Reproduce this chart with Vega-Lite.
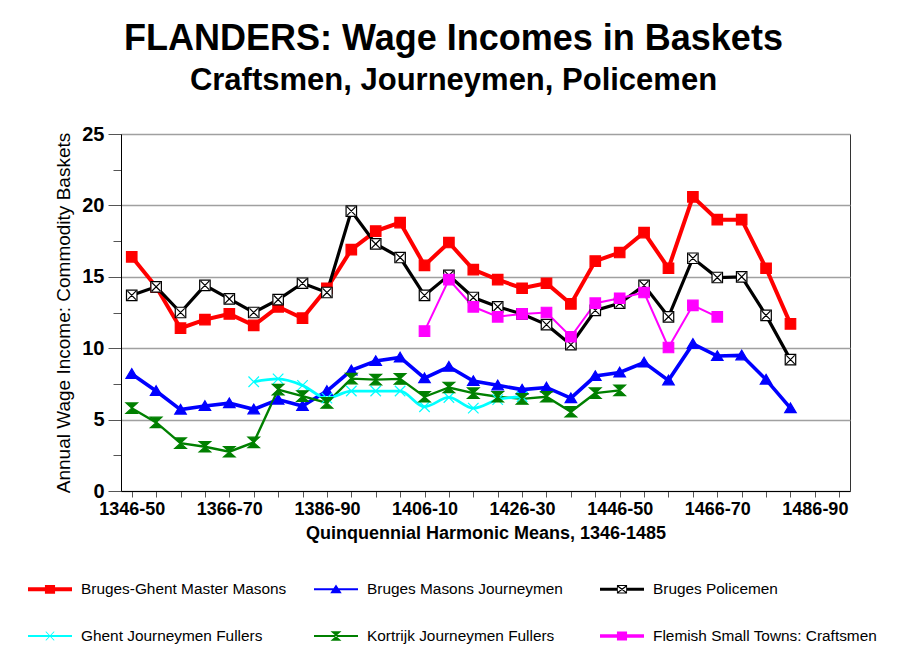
{
  "$schema": "https://vega.github.io/schema/vega-lite/v6.json",
  "autosize": "none",
  "width": 729,
  "height": 357,
  "padding": {"left": 121, "top": 134, "right": 52, "bottom": 178},
  "background": "white",
  "config": {
    "view": {"stroke": "#333", "strokeWidth": 1},
    "font": "Liberation Sans"
  },
  "title": {
    "text": "FLANDERS: Wage Incomes in Baskets",
    "subtitle": "Craftsmen, Journeymen, Policemen",
    "font": "Liberation Sans",
    "fontSize": 36,
    "fontWeight": "bold",
    "color": "black",
    "subtitleFont": "Liberation Sans",
    "subtitleFontSize": 31,
    "subtitleFontWeight": "bold",
    "subtitleColor": "black",
    "subtitlePadding": 8,
    "anchor": "middle",
    "frame": "group",
    "dx": -32,
    "offset": 27
  },
  "data": {
    "values": [
      {"period": "1346-50", "series": "Bruges-Ghent Master Masons", "value": 16.4},
      {"period": "1351-55", "series": "Bruges-Ghent Master Masons", "value": 14.3},
      {"period": "1356-60", "series": "Bruges-Ghent Master Masons", "value": 11.4},
      {"period": "1361-65", "series": "Bruges-Ghent Master Masons", "value": 12.0},
      {"period": "1366-70", "series": "Bruges-Ghent Master Masons", "value": 12.4},
      {"period": "1371-75", "series": "Bruges-Ghent Master Masons", "value": 11.6},
      {"period": "1376-80", "series": "Bruges-Ghent Master Masons", "value": 12.9},
      {"period": "1381-85", "series": "Bruges-Ghent Master Masons", "value": 12.1},
      {"period": "1386-90", "series": "Bruges-Ghent Master Masons", "value": 14.2},
      {"period": "1391-95", "series": "Bruges-Ghent Master Masons", "value": 16.9},
      {"period": "1396-1400", "series": "Bruges-Ghent Master Masons", "value": 18.2},
      {"period": "1401-05", "series": "Bruges-Ghent Master Masons", "value": 18.8},
      {"period": "1406-10", "series": "Bruges-Ghent Master Masons", "value": 15.8},
      {"period": "1411-15", "series": "Bruges-Ghent Master Masons", "value": 17.4},
      {"period": "1416-20", "series": "Bruges-Ghent Master Masons", "value": 15.5},
      {"period": "1421-25", "series": "Bruges-Ghent Master Masons", "value": 14.8},
      {"period": "1426-30", "series": "Bruges-Ghent Master Masons", "value": 14.2},
      {"period": "1431-35", "series": "Bruges-Ghent Master Masons", "value": 14.55},
      {"period": "1436-40", "series": "Bruges-Ghent Master Masons", "value": 13.1},
      {"period": "1441-45", "series": "Bruges-Ghent Master Masons", "value": 16.1},
      {"period": "1446-50", "series": "Bruges-Ghent Master Masons", "value": 16.7},
      {"period": "1451-55", "series": "Bruges-Ghent Master Masons", "value": 18.1},
      {"period": "1456-60", "series": "Bruges-Ghent Master Masons", "value": 15.6},
      {"period": "1461-65", "series": "Bruges-Ghent Master Masons", "value": 20.6},
      {"period": "1466-70", "series": "Bruges-Ghent Master Masons", "value": 19.0},
      {"period": "1471-75", "series": "Bruges-Ghent Master Masons", "value": 19.0},
      {"period": "1476-80", "series": "Bruges-Ghent Master Masons", "value": 15.6},
      {"period": "1481-85", "series": "Bruges-Ghent Master Masons", "value": 11.7},

      {"period": "1346-50", "series": "Bruges Masons Journeymen", "value": 8.2},
      {"period": "1351-55", "series": "Bruges Masons Journeymen", "value": 7.0},
      {"period": "1356-60", "series": "Bruges Masons Journeymen", "value": 5.7},
      {"period": "1361-65", "series": "Bruges Masons Journeymen", "value": 5.95},
      {"period": "1366-70", "series": "Bruges Masons Journeymen", "value": 6.15},
      {"period": "1371-75", "series": "Bruges Masons Journeymen", "value": 5.72},
      {"period": "1376-80", "series": "Bruges Masons Journeymen", "value": 6.4},
      {"period": "1381-85", "series": "Bruges Masons Journeymen", "value": 5.95},
      {"period": "1386-90", "series": "Bruges Masons Journeymen", "value": 7.0},
      {"period": "1391-95", "series": "Bruges Masons Journeymen", "value": 8.45},
      {"period": "1396-1400", "series": "Bruges Masons Journeymen", "value": 9.1},
      {"period": "1401-05", "series": "Bruges Masons Journeymen", "value": 9.35},
      {"period": "1406-10", "series": "Bruges Masons Journeymen", "value": 7.9},
      {"period": "1411-15", "series": "Bruges Masons Journeymen", "value": 8.7},
      {"period": "1416-20", "series": "Bruges Masons Journeymen", "value": 7.7},
      {"period": "1421-25", "series": "Bruges Masons Journeymen", "value": 7.4},
      {"period": "1426-30", "series": "Bruges Masons Journeymen", "value": 7.1},
      {"period": "1431-35", "series": "Bruges Masons Journeymen", "value": 7.25},
      {"period": "1436-40", "series": "Bruges Masons Journeymen", "value": 6.5},
      {"period": "1441-45", "series": "Bruges Masons Journeymen", "value": 8.05},
      {"period": "1446-50", "series": "Bruges Masons Journeymen", "value": 8.3},
      {"period": "1451-55", "series": "Bruges Masons Journeymen", "value": 9.0},
      {"period": "1456-60", "series": "Bruges Masons Journeymen", "value": 7.75},
      {"period": "1461-65", "series": "Bruges Masons Journeymen", "value": 10.3},
      {"period": "1466-70", "series": "Bruges Masons Journeymen", "value": 9.45},
      {"period": "1471-75", "series": "Bruges Masons Journeymen", "value": 9.5},
      {"period": "1476-80", "series": "Bruges Masons Journeymen", "value": 7.8},
      {"period": "1481-85", "series": "Bruges Masons Journeymen", "value": 5.8},

      {"period": "1346-50", "series": "Bruges Policemen", "value": 13.7},
      {"period": "1351-55", "series": "Bruges Policemen", "value": 14.3},
      {"period": "1356-60", "series": "Bruges Policemen", "value": 12.5},
      {"period": "1361-65", "series": "Bruges Policemen", "value": 14.4},
      {"period": "1366-70", "series": "Bruges Policemen", "value": 13.45},
      {"period": "1371-75", "series": "Bruges Policemen", "value": 12.5},
      {"period": "1376-80", "series": "Bruges Policemen", "value": 13.4},
      {"period": "1381-85", "series": "Bruges Policemen", "value": 14.55},
      {"period": "1386-90", "series": "Bruges Policemen", "value": 13.9},
      {"period": "1391-95", "series": "Bruges Policemen", "value": 19.6},
      {"period": "1396-1400", "series": "Bruges Policemen", "value": 17.3},
      {"period": "1401-05", "series": "Bruges Policemen", "value": 16.35},
      {"period": "1406-10", "series": "Bruges Policemen", "value": 13.7},
      {"period": "1411-15", "series": "Bruges Policemen", "value": 15.1},
      {"period": "1416-20", "series": "Bruges Policemen", "value": 13.55},
      {"period": "1421-25", "series": "Bruges Policemen", "value": 12.9},
      {"period": "1426-30", "series": "Bruges Policemen", "value": 12.4},
      {"period": "1431-35", "series": "Bruges Policemen", "value": 11.65},
      {"period": "1436-40", "series": "Bruges Policemen", "value": 10.25},
      {"period": "1441-45", "series": "Bruges Policemen", "value": 12.65},
      {"period": "1446-50", "series": "Bruges Policemen", "value": 13.15},
      {"period": "1451-55", "series": "Bruges Policemen", "value": 14.4},
      {"period": "1456-60", "series": "Bruges Policemen", "value": 12.2},
      {"period": "1461-65", "series": "Bruges Policemen", "value": 16.3},
      {"period": "1466-70", "series": "Bruges Policemen", "value": 14.95},
      {"period": "1471-75", "series": "Bruges Policemen", "value": 15.0},
      {"period": "1476-80", "series": "Bruges Policemen", "value": 12.3},
      {"period": "1481-85", "series": "Bruges Policemen", "value": 9.2},

      {"period": "1371-75", "series": "Ghent Journeymen Fullers", "value": 7.65},
      {"period": "1376-80", "series": "Ghent Journeymen Fullers", "value": 7.85},
      {"period": "1381-85", "series": "Ghent Journeymen Fullers", "value": 7.4},
      {"period": "1386-90", "series": "Ghent Journeymen Fullers", "value": 6.5},
      {"period": "1391-95", "series": "Ghent Journeymen Fullers", "value": 7.0},
      {"period": "1396-1400", "series": "Ghent Journeymen Fullers", "value": 7.0},
      {"period": "1401-05", "series": "Ghent Journeymen Fullers", "value": 7.0},
      {"period": "1406-10", "series": "Ghent Journeymen Fullers", "value": 5.9},
      {"period": "1411-15", "series": "Ghent Journeymen Fullers", "value": 6.55},
      {"period": "1416-20", "series": "Ghent Journeymen Fullers", "value": 5.8},
      {"period": "1421-25", "series": "Ghent Journeymen Fullers", "value": 6.4},
      {"period": "1426-30", "series": "Ghent Journeymen Fullers", "value": 6.6},

      {"period": "1346-50", "series": "Kortrijk Journeymen Fullers", "value": 5.8},
      {"period": "1351-55", "series": "Kortrijk Journeymen Fullers", "value": 4.8},
      {"period": "1356-60", "series": "Kortrijk Journeymen Fullers", "value": 3.35},
      {"period": "1361-65", "series": "Kortrijk Journeymen Fullers", "value": 3.1},
      {"period": "1366-70", "series": "Kortrijk Journeymen Fullers", "value": 2.75},
      {"period": "1371-75", "series": "Kortrijk Journeymen Fullers", "value": 3.4},
      {"period": "1376-80", "series": "Kortrijk Journeymen Fullers", "value": 7.1},
      {"period": "1381-85", "series": "Kortrijk Journeymen Fullers", "value": 6.65},
      {"period": "1386-90", "series": "Kortrijk Journeymen Fullers", "value": 6.17},
      {"period": "1391-95", "series": "Kortrijk Journeymen Fullers", "value": 7.87},
      {"period": "1396-1400", "series": "Kortrijk Journeymen Fullers", "value": 7.8},
      {"period": "1401-05", "series": "Kortrijk Journeymen Fullers", "value": 7.85},
      {"period": "1406-10", "series": "Kortrijk Journeymen Fullers", "value": 6.6},
      {"period": "1411-15", "series": "Kortrijk Journeymen Fullers", "value": 7.25},
      {"period": "1416-20", "series": "Kortrijk Journeymen Fullers", "value": 6.85},
      {"period": "1421-25", "series": "Kortrijk Journeymen Fullers", "value": 6.6},
      {"period": "1426-30", "series": "Kortrijk Journeymen Fullers", "value": 6.45},
      {"period": "1431-35", "series": "Kortrijk Journeymen Fullers", "value": 6.6},
      {"period": "1436-40", "series": "Kortrijk Journeymen Fullers", "value": 5.55},
      {"period": "1441-45", "series": "Kortrijk Journeymen Fullers", "value": 6.85},
      {"period": "1446-50", "series": "Kortrijk Journeymen Fullers", "value": 7.05},

      {"period": "1406-10", "series": "Flemish Small Towns: Craftsmen", "value": 11.2},
      {"period": "1411-15", "series": "Flemish Small Towns: Craftsmen", "value": 14.8},
      {"period": "1416-20", "series": "Flemish Small Towns: Craftsmen", "value": 12.9},
      {"period": "1421-25", "series": "Flemish Small Towns: Craftsmen", "value": 12.2},
      {"period": "1426-30", "series": "Flemish Small Towns: Craftsmen", "value": 12.4},
      {"period": "1431-35", "series": "Flemish Small Towns: Craftsmen", "value": 12.5},
      {"period": "1436-40", "series": "Flemish Small Towns: Craftsmen", "value": 10.8},
      {"period": "1441-45", "series": "Flemish Small Towns: Craftsmen", "value": 13.15},
      {"period": "1446-50", "series": "Flemish Small Towns: Craftsmen", "value": 13.5},
      {"period": "1451-55", "series": "Flemish Small Towns: Craftsmen", "value": 13.9},
      {"period": "1456-60", "series": "Flemish Small Towns: Craftsmen", "value": 10.05},
      {"period": "1461-65", "series": "Flemish Small Towns: Craftsmen", "value": 13.0},
      {"period": "1466-70", "series": "Flemish Small Towns: Craftsmen", "value": 12.2}
    ]
  },
  "encoding": {
    "x": {
      "field": "period",
      "type": "ordinal",
      "scale": {
        "type": "point",
        "padding": 0.44,
        "domain": ["1346-50","1351-55","1356-60","1361-65","1366-70","1371-75","1376-80","1381-85","1386-90","1391-95","1396-1400","1401-05","1406-10","1411-15","1416-20","1421-25","1426-30","1431-35","1436-40","1441-45","1446-50","1451-55","1456-60","1461-65","1466-70","1471-75","1476-80","1481-85","1486-90","1491-95"]
      },
      "axis": {
        "title": "Quinquennial Harmonic Means, 1346-1485",
        "titleFont": "Liberation Sans",
        "titleFontSize": 18,
        "titleFontWeight": "bold",
        "titleColor": "black",
        "titlePadding": 6,
        "labelExpr": "(toNumber(substring(datum.value,0,4)) - 1346) % 20 === 0 ? datum.value : ''",
        "labelAngle": 0,
        "labelOverlap": false,
        "labelFont": "Liberation Sans",
        "labelFontSize": 18,
        "labelFontWeight": "bold",
        "labelColor": "black",
        "labelPadding": 3,
        "tickSize": 6,
        "tickColor": "#555",
        "domainColor": "black",
        "grid": false
      }
    },
    "y": {
      "field": "value",
      "type": "quantitative",
      "scale": {"domain": [0, 25], "nice": false, "zero": true},
      "axis": {
        "title": "Annual Wage Income: Commodity Baskets",
        "titleFont": "Liberation Sans",
        "titleFontSize": 19,
        "titleFontWeight": "normal",
        "titleColor": "black",
        "titlePadding": 8,
        "values": [0, 2.5, 5, 7.5, 10, 12.5, 15, 17.5, 20, 22.5, 25],
        "labelExpr": "datum.value % 5 === 0 ? datum.label : ''",
        "labelFont": "Liberation Sans",
        "labelFontSize": 20,
        "labelFontWeight": "bold",
        "labelColor": "black",
        "labelPadding": 4,
        "tickColor": "#555",
        "tickSize": {"condition": {"test": "datum.value % 5 === 0", "value": 13}, "value": 8},
        "domainColor": "black",
        "grid": true,
        "gridColor": {"condition": {"test": "datum.value % 5 === 0", "value": "#a0a0a0"}, "value": "transparent"},
        "gridWidth": 1.5
      }
    }
  },
  "layer": [
    {
      "transform": [{"filter": "datum.series !== 'Ghent Journeymen Fullers'"}],
      "mark": {"type": "line"},
      "encoding": {
        "stroke": {
          "field": "series",
          "type": "nominal",
          "scale": {
            "domain": ["Bruges-Ghent Master Masons","Bruges Masons Journeymen","Bruges Policemen","Ghent Journeymen Fullers","Kortrijk Journeymen Fullers","Flemish Small Towns: Craftsmen"],
            "range": ["#ff0000","#0000ff","#000000","#00ffff","#008000","#ff00ff"]
          },
          "legend": null
        },
        "strokeWidth": {
          "field": "series",
          "type": "nominal",
          "scale": {
            "domain": ["Bruges-Ghent Master Masons","Bruges Masons Journeymen","Bruges Policemen","Ghent Journeymen Fullers","Kortrijk Journeymen Fullers","Flemish Small Towns: Craftsmen"],
            "range": [4, 2, 3, 2, 2, 3.5]
          },
          "legend": null
        }
      }
    },
    {
      "transform": [{"filter": "datum.series === 'Ghent Journeymen Fullers'"}],
      "mark": {"type": "line", "interpolate": "monotone"},
      "encoding": {
        "stroke": {"field": "series", "type": "nominal", "legend": null},
        "strokeWidth": {"field": "series", "type": "nominal", "legend": null}
      }
    },
    {
      "mark": {"type": "point", "filled": true, "size": 110, "strokeWidth": 1.2, "opacity": 1},
      "encoding": {
        "shape": {
          "field": "series",
          "type": "nominal",
          "scale": {
            "domain": ["Bruges-Ghent Master Masons","Bruges Masons Journeymen","Bruges Policemen","Ghent Journeymen Fullers","Kortrijk Journeymen Fullers","Flemish Small Towns: Craftsmen"],
            "range": [
              "M-1,-1H1V1H-1Z",
              "M0,-1L1.1,0.85H-1.1Z",
              "M-1,-1H1V1H-1Z M-0.8,-0.8L0.8,0.8 M0.8,-0.8L-0.8,0.8",
              "M-1,-1L1,1 M1,-1L-1,1",
              "M-1.1,-1H1.1L0,0Z M-1.1,1H1.1L0,0Z",
              "M-1,-1H1V1H-1Z"
            ]
          },
          "legend": null
        },
        "fill": {
          "field": "series",
          "type": "nominal",
          "scale": {
            "domain": ["Bruges-Ghent Master Masons","Bruges Masons Journeymen","Bruges Policemen","Ghent Journeymen Fullers","Kortrijk Journeymen Fullers","Flemish Small Towns: Craftsmen"],
            "range": ["#ff0000","#0000ff","#ffffff","#00ffff","#008000","#ff00ff"]
          },
          "legend": null
        },
        "stroke": {"field": "series", "type": "nominal", "legend": null}
      }
    },
    {
      "mark": {"type": "point", "filled": true, "size": 1936, "opacity": 0},
      "encoding": {
        "color": {
          "field": "series",
          "type": "nominal",
          "scale": {
            "domain": ["Bruges-Ghent Master Masons","Ghent Journeymen Fullers","Bruges Masons Journeymen","Kortrijk Journeymen Fullers","Bruges Policemen","Flemish Small Towns: Craftsmen"],
            "range": ["#ff0000","#00ffff","#0000ff","#008000","#000000","#ff00ff"]
          },
          "legend": {
            "title": null,
            "orient": "none",
            "legendX": -93,
            "legendY": 433,
            "columns": 3,
            "gridAlign": "all",
            "columnPadding": 8,
            "rowPadding": 16,
            "symbolSize": 1936,
            "symbolOpacity": 1,
            "symbolStrokeWidth": 0,
            "labelFont": "Liberation Sans",
            "labelFontSize": 15.4,
            "labelColor": "black",
            "labelOffset": 9,
            "labelLimit": 400
          }
        },
        "shape": {
          "field": "series",
          "type": "nominal",
          "scale": {
            "domain": ["Bruges-Ghent Master Masons","Ghent Journeymen Fullers","Bruges Masons Journeymen","Kortrijk Journeymen Fullers","Bruges Policemen","Flemish Small Towns: Craftsmen"],
            "range": [
              "M-1,-0.09H1V0.09H-1Z M-0.23,-0.2H0.23V0.2H-0.23Z",
              "M-1,-0.045H1V0.045H-1Z M-0.21,-0.19L-0.17,-0.21L0.21,0.19L0.17,0.21Z M0.17,-0.21L0.21,-0.19L-0.17,0.21L-0.21,0.19Z",
              "M-1,-0.045H1V0.045H-1Z M0,-0.22L0.26,0.18H-0.26Z",
              "M-1,-0.045H1V0.045H-1Z M-0.25,-0.22H0.25L0,0Z M-0.25,0.22H0.25L0,0Z",
              "M-1,-0.07H-0.23V0.07H-1Z M0.23,-0.07H1V0.07H0.23Z M-0.23,-0.19H0.23V0.19H-0.23Z M-0.19,-0.15V0.15H0.19V-0.15Z M-0.19,-0.15H-0.15L0.19,0.11V0.15H0.15L-0.19,-0.11Z M0.19,-0.15V-0.11L-0.15,0.15H-0.19V0.11L0.15,-0.15Z",
              "M-1,-0.08H1V0.08H-1Z M-0.23,-0.2H0.23V0.2H-0.23Z"
            ]
          },
          "legend": {
            "title": null,
            "orient": "none",
            "legendX": -93,
            "legendY": 433,
            "columns": 3,
            "gridAlign": "all",
            "columnPadding": 8,
            "rowPadding": 16,
            "symbolSize": 1936,
            "symbolOpacity": 1,
            "symbolStrokeWidth": 0,
            "labelFont": "Liberation Sans",
            "labelFontSize": 15.4,
            "labelColor": "black",
            "labelOffset": 9,
            "labelLimit": 400
          }
        }
      }
    }
  ],
  "resolve": {"scale": {"shape": "independent", "color": "independent"}}
}
